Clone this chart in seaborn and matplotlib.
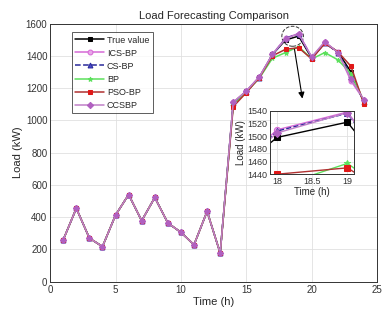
import numpy as np
import pandas as pd
import matplotlib.pyplot as plt
import seaborn as sns
from matplotlib.patches import Ellipse

# Data
hours = list(range(1, 25))
low_part = [260, 455, 270, 218, 413, 540, 378, 522, 364, 306, 229, 436, 178]
true_value = low_part + [1110, 1180, 1268, 1408, 1498, 1522, 1385, 1478, 1425, 1300, 1110]
ics_bp = low_part + [1112, 1182, 1270, 1410, 1510, 1538, 1392, 1485, 1422, 1245, 1125]
cs_bp = low_part + [1105, 1178, 1265, 1405, 1508, 1536, 1388, 1482, 1418, 1280, 1115]
bp = low_part + [1095, 1175, 1262, 1385, 1420, 1457, 1380, 1420, 1375, 1290, 1115]
pso_bp = low_part + [1085, 1172, 1265, 1400, 1440, 1450, 1380, 1478, 1425, 1335, 1100]
ccsbp = low_part + [1112, 1182, 1270, 1410, 1505, 1537, 1392, 1488, 1420, 1255, 1128]

series = [
    ('True value', true_value, dict(color='black', marker='s', ls='-', mfc='black', mec='black', ms=3)),
    ('ICS-BP', ics_bp, dict(color='#d66ad6', marker='o', ls='-', mfc='#e8a8e8', mec='#d66ad6', ms=3.5)),
    ('CS-BP', cs_bp, dict(color='#2a2a9a', marker='^', ls='--', mfc='#4a4ad0', mec='#2a2a9a', ms=3.5)),
    ('BP', bp, dict(color='#5ce05c', marker='*', ls='-', mfc='#5ce05c', mec='#5ce05c', ms=3.5)),
    ('PSO-BP', pso_bp, dict(color='#b03030', marker='s', ls='-', mfc='#e01818', mec='#e01818', ms=3)),
    ('CCSBP', ccsbp, dict(color='#c080c8', marker='D', ls='-', mfc='#b060c0', mec='#b060c0', ms=3.2)),
]

sns.set_style("whitegrid")
plt.rcParams['font.family'] = ['Liberation Sans', 'DejaVu Sans']

fig = plt.figure(figsize=(3.92, 3.22), dpi=100)
ax = fig.add_axes([0.128, 0.125, 0.834, 0.802])

for name, vals, st in series:
    df = pd.DataFrame({'t': hours, 'v': vals})
    sns.lineplot(data=df, x='t', y='v', ax=ax, label=name, color=st['color'],
                 linestyle=st['ls'], marker=st['marker'], markersize=st['ms'],
                 markerfacecolor=st['mfc'], markeredgecolor=st['mec'], linewidth=1.1)

ax.set_xlim(0, 25)
ax.set_ylim(0, 1600)
ax.set_xticks(range(0, 26, 5))
ax.set_yticks(range(0, 1601, 200))
ax.set_title('Load Forecasting Comparison', fontsize=8, pad=3)
ax.set_xlabel('Time (h)', fontsize=8, labelpad=2)
ax.set_ylabel('Load (kW)', fontsize=8, labelpad=2)
ax.tick_params(labelsize=7, direction='in', length=2, pad=2, labelcolor='#333333')
ax.grid(color='#e0e0e0', linewidth=0.6)
for s in ax.spines.values():
    s.set_edgecolor('#333333')
    s.set_linewidth(0.7)

leg = ax.legend(loc='upper left', bbox_to_anchor=(0.052, 0.985), fontsize=6.5,
                frameon=True, fancybox=False, handlelength=3.2, borderpad=0.4,
                labelspacing=0.45, handletextpad=0.3)
leg.get_frame().set_edgecolor('#333333')
leg.get_frame().set_linewidth(0.7)

# dashed ellipse around the peak and arrow to the inset
ax.add_patch(Ellipse((18.54, 1521), 1.65, 124, fill=False, ls='--', lw=0.7, ec='#333333'))
ax.annotate('', xy=(19.32, 1118), xytext=(18.65, 1457),
            arrowprops=dict(arrowstyle='-|>', color='black', lw=0.8, mutation_scale=9))

# inset zoom
axin = fig.add_axes([0.689, 0.459, 0.215, 0.197])
for name, vals, st in series:
    df = pd.DataFrame({'t': hours, 'v': vals})
    sns.lineplot(data=df, x='t', y='v', ax=axin, color=st['color'],
                 linestyle=st['ls'], marker=st['marker'], markersize=st['ms'] + 1,
                 markerfacecolor=st['mfc'], markeredgecolor=st['mec'], linewidth=1,
                 legend=False)
axin.set_xlim(17.9, 19.1)
axin.set_ylim(1440, 1540)
axin.set_xticks([18, 18.5, 19])
axin.set_xticklabels(['18', '18.5', '19'])
axin.set_yticks(range(1440, 1541, 20))
axin.set_xlabel('Time (h)', fontsize=7, labelpad=1)
axin.set_ylabel('Load (kW)', fontsize=7, labelpad=1)
axin.tick_params(labelsize=6.5, direction='in', length=2, pad=2, labelcolor='#333333')
axin.grid(color='#e0e0e0', linewidth=0.6)
for s in axin.spines.values():
    s.set_edgecolor('#333333')
    s.set_linewidth(0.7)

plt.savefig('out.png', dpi=100)
